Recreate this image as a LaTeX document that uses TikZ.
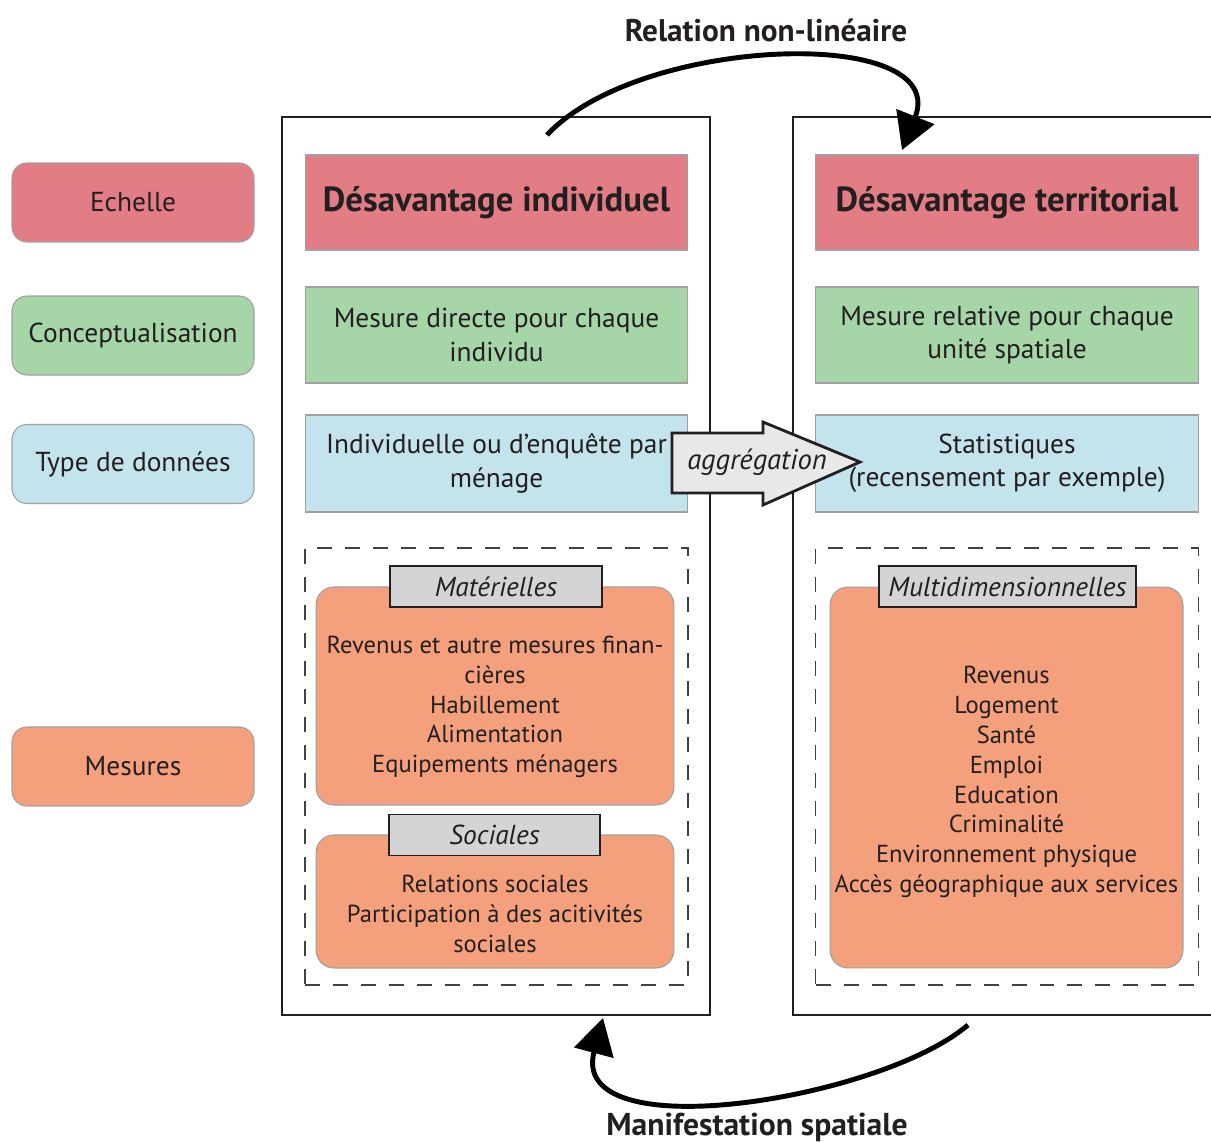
\documentclass[tikz,border=0pt]{standalone}
\usepackage{fontspec}
\setmainfont{PT Sans}
\usetikzlibrary{arrows.meta}

\definecolor{scalered}{HTML}{E27D86}
\definecolor{conceptgreen}{HTML}{A6D5A8}
\definecolor{datablue}{HTML}{C3E3ED}
\definecolor{measorange}{HTML}{F4A07C}
\definecolor{labelgray}{HTML}{D4D4D4}
\definecolor{arrowgray}{HTML}{E8E8E8}
\definecolor{edgegray}{HTML}{A0A0A0}
\definecolor{inkblack}{HTML}{231F20}

\tikzset{
  legend/.style={draw=edgegray, line width=0.6pt, rounded corners=0.3cm, minimum width=4.84cm, minimum height=1.58cm, inner sep=0pt, align=center, font=\fontsize{15.6}{19}\selectfont},
  colbox/.style={draw=edgegray, line width=0.6pt, minimum width=7.66cm, inner sep=0pt, align=center},
  dashbox/.style={draw=inkblack!85, line width=1pt, dash pattern=on 0.3cm off 0.26cm, minimum width=7.66cm, minimum height=8.74cm, inner sep=0pt},
  measbox/.style={draw=edgegray, fill=measorange, line width=0.6pt, rounded corners=0.36cm, inner sep=0pt},
  tagbox/.style={draw=inkblack, fill=labelgray, line width=1pt, minimum height=0.82cm, inner sep=0pt, font=\fontsize{15.6}{19}\selectfont\itshape},
  bigarrow/.style={line width=2.8pt, -{Triangle[length=0.72cm, width=0.8cm]}},
}

\begin{document}
\begin{tikzpicture}[x=0.02cm, y=-0.02cm, font=\fontsize{14}{17}\selectfont, text=inkblack]
    \useasboundingbox (0,0) rectangle (1211,1142);

    % panels
    \draw[inkblack, line width=0.8pt] (282,117) rectangle (710,1015);
    \draw[inkblack, line width=0.8pt] (1211,117) -- (793,117) -- (793,1015) -- (1211,1015);

    % legend
    \node[legend, fill=scalered] (echelle) at (133,202.5) {Echelle};
    \node[legend, fill=conceptgreen] (concept) at (133,335.5) {Conceptualisation};
    \node[legend, fill=datablue] (typedon) at (133,464) {Type de données};
    \node[legend, fill=measorange] (mesures) at (133,766.5) {Mesures};

    % individual column
    \node[colbox, fill=scalered, minimum height=1.9cm, font=\fontsize{19.8}{24}\selectfont\bfseries] (indhead) at (496.5,202.5) {Désavantage individuel};
    \node[colbox, fill=conceptgreen, minimum height=1.92cm, font=\fontsize{15.6}{19}\selectfont] (indconc) at (496.5,335) {Mesure directe pour chaque\\individu};
    \node[colbox, fill=datablue, minimum height=1.94cm, font=\fontsize{15.6}{19}\selectfont] (inddata) at (496.5,463.5) {Individuelle ou d’enquête par\\ménage};
    \node[dashbox] (inddash) at (496.5,766.5) {};
    \node[measbox, minimum width=7.16cm, minimum height=4.36cm] (matbox) at (495,696) {};
    \node[align=center] (mattext) at (495,707) {Revenus et autre mesures finan-\\cières\\Habillement\\Alimentation\\Equipements ménagers};
    \node[tagbox, minimum width=4.24cm] (mattag) at (496,586.5) {Matérielles};
    \node[measbox, minimum width=7.16cm, minimum height=2.66cm] (socbox) at (495,901.5) {};
    \node[align=center] (soctext) at (495,914) {Relations sociales\\Participation à des acitivités\\sociales};
    \node[tagbox, minimum width=4.22cm] (soctag) at (494.5,835) {Sociales};

    % territorial column
    \node[colbox, fill=scalered, minimum height=1.9cm, font=\fontsize{19.8}{24}\selectfont\bfseries] (terhead) at (1007,202.5) {Désavantage territorial};
    \node[colbox, fill=conceptgreen, minimum height=1.92cm, font=\fontsize{15.6}{19}\selectfont] (terconc) at (1007,335) {Mesure relative pour chaque\\unité spatiale};
    \node[colbox, fill=datablue, minimum height=1.94cm, font=\fontsize{15.6}{19}\selectfont] (terdata) at (1007,463.5) {Statistiques\\(recensement par exemple)};
    \node[dashbox] (terdash) at (1007,766.5) {};
    \node[measbox, minimum width=7.06cm, minimum height=7.62cm] (multbox) at (1006.5,777.5) {};
    \node[align=center] (multtext) at (1006.5,782) {Revenus\\Logement\\Santé\\Emploi\\Education\\Criminalité\\Environnement physique\\Accès géographique aux services};
    \node[tagbox, minimum width=5.14cm] (multtag) at (1007.5,586.5) {Multidimensionnelles};

    % aggregation
    \draw[inkblack, fill=arrowgray, line width=1.6pt, line join=miter] (672,433) -- (763,433) -- (763,422) -- (860,462) -- (763,505) -- (763,493) -- (672,493) -- cycle;
    \node[font=\fontsize{16.3}{19}\selectfont\itshape] (aggr) at (757,462) {aggrégation};

    % curved arrows
    \node[font=\fontsize{17.8}{21}\selectfont\bfseries] (relation) at (766,30) {Relation non-linéaire};
    \coordinate (relstart) at (547,135);
    \coordinate (relend) at (902,150);
    \draw[bigarrow] (relstart) .. controls (640,35) and (952,25) .. (relend);

    \node[font=\fontsize{18}{21}\selectfont\bfseries] (manif) at (757,1127) {Manifestation spatiale};
    \coordinate (manstart) at (968,1025);
    \coordinate (manend) at (603,1018);
    \draw[bigarrow] (manstart) .. controls (880,1100) and (568,1150) .. (manend);
\end{tikzpicture}
\end{document}
